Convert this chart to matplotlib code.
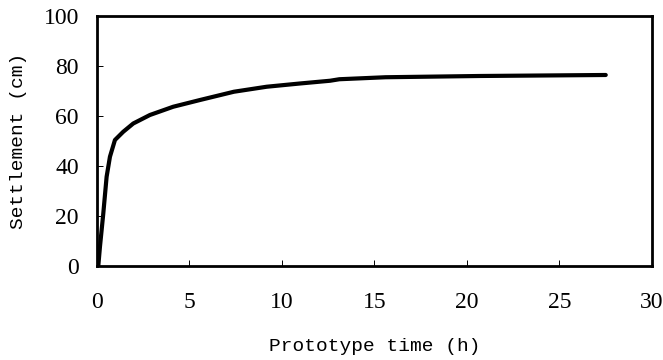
import matplotlib
matplotlib.use("Agg")
import matplotlib.pyplot as plt

plt.rcParams["font.family"] = ["Liberation Serif", "DejaVu Serif"]

# settlement curve
time_h = [0.07, 0.16, 0.34, 0.52, 0.70, 0.97, 1.42, 1.96, 2.86, 4.12, 5.57,
          7.4, 9.17, 10.97, 12.6, 13.1, 15.6, 20.7, 27.5]
settlement_cm = [0, 7.7, 21, 35.7, 43.7, 50.4, 53.7, 57, 60.4, 63.7, 66.4,
                 69.7, 71.7, 73, 74.1, 74.7, 75.5, 76, 76.4]

x_ticks = [0, 5, 10, 15, 20, 25, 30]
y_ticks = [0, 20, 40, 60, 80, 100]

fig = plt.figure(figsize=(6.63, 3.6), dpi=100)
ax = fig.add_axes([0.1463, 0.2611, 0.8371, 0.6945])

ax.plot(time_h, settlement_cm, color="black", lw=3.0, solid_capstyle="round")

ax.set_xlim(0, 30)
ax.set_ylim(0, 100)
ax.set_xticks(x_ticks)
ax.set_yticks(y_ticks)

for s in ax.spines.values():
    s.set_linewidth(2.0)

ax.tick_params(direction="in", length=4, width=0.7, labelsize=17)
ax.tick_params(axis="x", pad=19)
ax.tick_params(axis="y", pad=13)

ax.set_xlabel("Prototype time (h)", family="Liberation Mono", fontsize=14, labelpad=18)
ax.set_ylabel("Settlement (cm)", family="Liberation Mono", fontsize=14, labelpad=12)

fig.savefig("out.png", dpi=100)
